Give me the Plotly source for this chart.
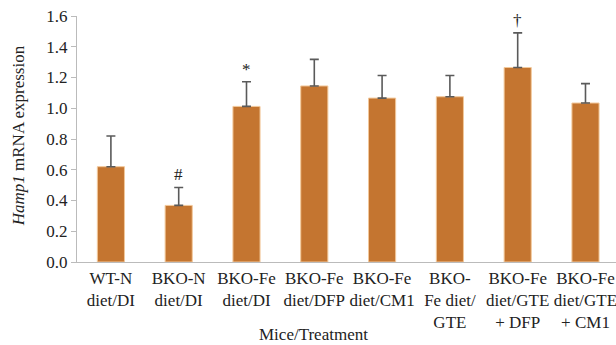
import plotly.graph_objects as go

categories = ["WT-N<br>diet/DI", "BKO-N<br>diet/DI", "BKO-Fe<br>diet/DI", "BKO-Fe<br>diet/DFP",
              "BKO-Fe<br>diet/CM1", "BKO-<br>Fe diet/<br>GTE", "BKO-Fe<br>diet/GTE<br>+ DFP",
              "BKO-Fe<br>diet/GTE<br>+ CM1"]
values = [0.62, 0.368, 1.012, 1.145, 1.066, 1.075, 1.265, 1.034]
errors = [0.20, 0.117, 0.16, 0.173, 0.147, 0.138, 0.225, 0.126]
marks = ["", "#", "*", "", "", "", "†", ""]
yticks = [0.0, 0.2, 0.4, 0.6, 0.8, 1.0, 1.2, 1.4, 1.6]

FONT = "Liberation Serif, Times New Roman, serif"
W, H = 616, 345
ml, mr, mt, mb = 77, 0, 15.5, 83
pw, ph = W - ml - mr, H - mt - mb

xs = list(range(len(categories)))
fig = go.Figure()
fig.add_trace(go.Bar(
    x=xs, y=values,
    marker=dict(color="#C47530", line=dict(color="#F2C89A", width=1)),
    width=0.4,
    error_y=dict(type="data", array=errors, arrayminus=[0]*len(errors), symmetric=False,
                 color="#5A5A5A", thickness=1.6, width=4.5),
))

anns = []
for x, v, e, m in zip(xs, values, errors, marks):
    if m:
        anns.append(dict(x=x, y=v + e, xref="x", yref="y", text=m, showarrow=False,
                         yanchor="bottom", yshift=1, font=dict(family=FONT, size=17, color="#222")))

anns.append(dict(x=(313 - ml) / pw, y=-(335 - (H - mb)) / ph, xref="paper", yref="paper",
                 text="Mice/Treatment", showarrow=False, xanchor="center", yanchor="middle",
                 font=dict(family=FONT, size=17, color="#222")))
anns.append(dict(x=(18 - ml) / pw, y=(H - mb - 136) / ph, xref="paper", yref="paper",
                 text="<i>Hamp1</i> mRNA expression", textangle=-90, showarrow=False,
                 xanchor="center", yanchor="middle", font=dict(family=FONT, size=17, color="#222")))

fig.update_layout(
    annotations=anns,
    width=W, height=H,
    margin=dict(l=ml, r=mr, t=mt, b=mb, autoexpand=False),
    plot_bgcolor="white", paper_bgcolor="white",
    showlegend=False,
    font=dict(family=FONT, size=17, color="#222"),
    xaxis=dict(range=[-0.5, 7.45], tickmode="array", tickvals=xs, ticktext=categories,
               tickangle=0, showline=True, linecolor="#BBBBBB", linewidth=1.2,
               ticks="", showgrid=False, zeroline=False, automargin=False,
               ticklabeloverflow="allow",
               tickfont=dict(family=FONT, size=17, color="#222")),
    yaxis=dict(range=[0, 1.6], tickmode="array", tickvals=yticks,
               ticktext=[f"{t:.1f}" for t in yticks], showline=True, linecolor="#BBBBBB",
               linewidth=1.2, ticks="outside", ticklen=5, tickcolor="#BBBBBB",
               showgrid=False, zeroline=False, automargin=False,
               tickfont=dict(family=FONT, size=17, color="#222")),
)
fig.write_html("out.html")
